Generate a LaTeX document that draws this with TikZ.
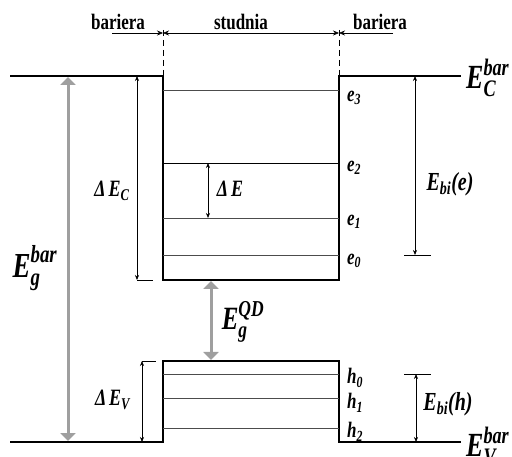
\documentclass[tikz,border=0pt]{standalone}
\usepackage{amsmath}
\usepackage{graphicx}
\usepackage{fontspec}
\setmainfont{Liberation Serif}
\usetikzlibrary{arrows.meta}
\newcommand\bi[1]{\textbf{\textit{#1}}}
\newcommand\vs[1]{\scalebox{1}[1.3]{#1}}
\begin{document}
\begin{tikzpicture}[x=1pt,y=-1pt,
  band/.style={line width=2.2pt,line join=miter},
  lev/.style={line width=0.8pt,black!70},
  dim/.style={line width=0.6pt,{Stealth[length=5pt,width=4pt]}-{Stealth[length=5pt,width=4pt]}},
  dimdown/.style={line width=0.6pt,-{Stealth[length=6pt,width=5pt]}},
  bigarr/.style={line width=3pt,gray!75,{Triangle[length=8pt,width=15pt]}-{Triangle[length=8pt,width=15pt]}},
  tick/.style={line width=0.6pt},
  dashline/.style={line width=0.6pt,dash pattern=on 6pt off 4pt},
  ttl/.style={font=\fontsize{17}{17}\selectfont\bfseries,inner sep=0pt},
  lbl/.style={inner sep=0pt,font=\fontsize{18}{18}\selectfont},
  lvl/.style={inner sep=0pt,font=\fontsize{17}{17}\selectfont,anchor=west}]
\useasboundingbox (0,0) rectangle (512,457);
% coordinates
\coordinate (c0) at (10,76);
\coordinate (c1) at (163,76);
\coordinate (c2) at (163,280);
\coordinate (c3) at (339,280);
\coordinate (c4) at (339,76);
\coordinate (c5) at (461,76);
\coordinate (v0) at (10,442);
\coordinate (v1) at (163,442);
\coordinate (v2) at (163,361);
\coordinate (v3) at (339,361);
\coordinate (v4) at (339,442);
\coordinate (v5) at (461,442);
% bands
\draw[band] (c0) -- (c1) -- (c2) -- (c3) -- (c4) -- (c5);
\draw[band] (v0) -- (v1) -- (v2) -- (v3) -- (v4) -- (v5);
% levels
\coordinate (e3l) at (163,90);  \coordinate (e3r) at (339,90);
\coordinate (e2l) at (163,163); \coordinate (e2r) at (339,163);
\coordinate (e1l) at (163,218); \coordinate (e1r) at (339,218);
\coordinate (e0l) at (163,255); \coordinate (e0r) at (339,255);
\coordinate (h0l) at (163,374); \coordinate (h0r) at (339,374);
\coordinate (h1l) at (163,398); \coordinate (h1r) at (339,398);
\coordinate (h2l) at (163,428); \coordinate (h2r) at (339,428);
\draw[lev] (e3l) -- (e3r);
\draw[line width=0.8pt] (e2l) -- (e2r);
\draw[lev] (e1l) -- (e1r);
\draw[lev] (e0l) -- (e0r);
\draw[lev] (h0l) -- (h0r);
\draw[lev] (h1l) -- (h1r);
\draw[lev] (h2l) -- (h2r);
\node[lvl] (le3) at (347,98) {\vs{$\bi{e}_{\bi{3}}$}};
\node[lvl] (le2) at (347,168) {\vs{$\bi{e}_{\bi{2}}$}};
\node[lvl] (le1) at (347,222) {\vs{$\bi{e}_{\bi{1}}$}};
\node[lvl] (le0) at (347,261) {\vs{$\bi{e}_{\bi{0}}$}};
\node[lvl] (lh0) at (347,378) {\vs{$\bi{h}_{\bi{0}}$}};
\node[lvl] (lh1) at (347,403) {\vs{$\bi{h}_{\bi{1}}$}};
\node[lvl] (lh2) at (347,432) {\vs{$\bi{h}_{\bi{2}}$}};
% top dimension line
\coordinate (dl) at (163,33);
\coordinate (dr) at (339,33);
\coordinate (bl) at (112,33);
\coordinate (br) at (393,33);
\coordinate (dlt) at (163,30);
\coordinate (drt) at (339,30);
\draw[dashline] (dlt) -- (c1);
\draw[dashline] (drt) -- (c4);
\draw[line width=0.6pt,{Stealth[length=6pt,width=5pt]}-{Stealth[length=6pt,width=5pt]}] (dl) -- (dr);
\draw[dimdown] (bl) -- (dl);
\draw[dimdown] (br) -- (dr);
\node[ttl] (tb1) at (118,22) {\vs{bariera}};
\node[ttl] (ts) at (241,22) {\vs{studnia}};
\node[ttl] (tb2) at (380,22) {\vs{bariera}};
% big gray arrows
\coordinate (gt) at (68,77);
\coordinate (gb) at (68,441);
\draw[bigarr] (gt) -- (gb);
\coordinate (qt) at (211,281);
\coordinate (qb) at (211,360);
\draw[bigarr] (qt) -- (qb);
% Delta E_C
\coordinate (dct) at (137,76);
\coordinate (dcb) at (137,280);
\coordinate (dcte) at (153,280);
\draw[dim] (dct) -- (dcb);
\draw[tick] (dcb) -- (dcte);
% Delta E
\coordinate (det) at (208,163);
\coordinate (deb) at (208,218);
\draw[dim] (det) -- (deb);
% Delta E_V
\coordinate (dvt) at (142,361);
\coordinate (dvb) at (142,442);
\coordinate (dvte) at (156,361);
\draw[dim] (dvt) -- (dvb);
\draw[tick] (dvt) -- (dvte);
% E_bi(e)
\coordinate (bet) at (415,76);
\coordinate (beb) at (415,255);
\coordinate (bel) at (404,255);
\coordinate (ber) at (431,255);
\draw[dim] (bet) -- (beb);
\draw[tick] (bel) -- (ber);
% E_bi(h)
\coordinate (bht) at (416,374);
\coordinate (bhb) at (416,442);
\coordinate (bhl) at (404,374);
\coordinate (bhr) at (431,374);
\draw[dim] (bht) -- (bhb);
\draw[tick] (bhl) -- (bhr);
% labels
\node[lbl,font=\fontsize{27}{27}\selectfont] (lEg) at (35,268) {\vs{$\bi{E}_{\bi{g}}^{\bi{bar}}$}};
\node[lbl,font=\fontsize{25}{25}\selectfont] (lQD) at (243,322) {\vs{$\bi{E}_{\bi{g}}^{\bi{QD}}$}};
\node[lbl] (lDEC) at (112,191) {\vs{$\bi{Δ}\,\bi{E}_{\bi{C}}$}};
\node[lbl] (lDE) at (230,189) {\vs{$\bi{Δ}\,\bi{E}$}};
\node[lbl] (lDEV) at (113,400) {\vs{$\bi{Δ}\,\bi{E}_{\bi{V}}$}};
\node[lbl,font=\fontsize{20}{20}\selectfont] (lbie) at (450,184) {\vs{$\bi{E}_{\bi{bi}}\bi{(e)}$}};
\node[lbl,font=\fontsize{20}{20}\selectfont] (lbih) at (448,404) {\vs{$\bi{E}_{\bi{bi}}\bi{(h)}$}};
\node[lbl,font=\fontsize{26}{26}\selectfont,anchor=west] (lEC) at (466,78) {\vs{$\bi{E}_{\bi{C}}^{\bi{bar}}$}};
\node[lbl,font=\fontsize{26}{26}\selectfont,anchor=west] (lEV) at (466,446) {\vs{$\bi{E}_{\bi{V}}^{\bi{bar}}$}};
\end{tikzpicture}
\end{document}
